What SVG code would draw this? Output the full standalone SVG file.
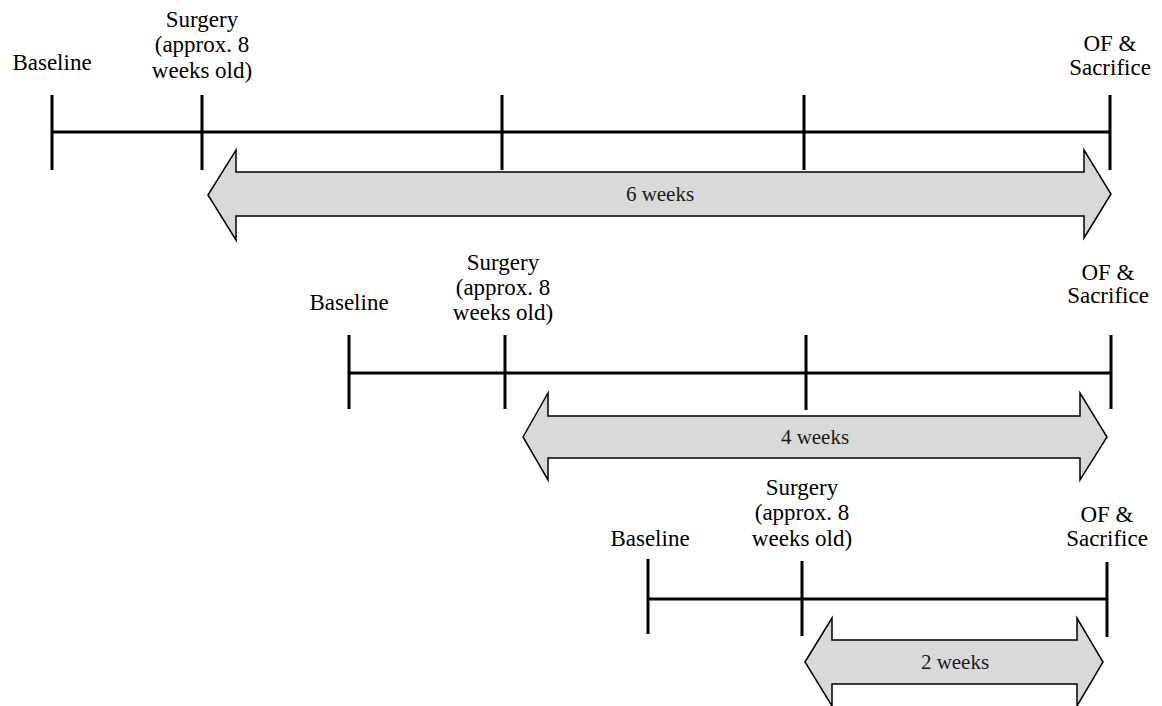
<svg xmlns="http://www.w3.org/2000/svg" width="1162" height="706" viewBox="0 0 1162 706">
<style>
.tl{stroke:#000;stroke-width:3;fill:none}
.ar{fill:#d9d9d9;stroke:#000;stroke-width:1.5;stroke-linejoin:miter}
.lb{font-size:23px;fill:#000;text-anchor:middle}
.al{font-size:21px;fill:#1a1a1a;text-anchor:middle}
</style>
<rect width="1162" height="706" fill="#fff"/>
<g id="connectors">
  <g id="timeline1">
    <path class="tl" d="M52 132H1110 M52 95V170 M202 95V170 M502 95V170 M804 95V170 M1110 95V170"/>
  </g>
  <g id="timeline2">
    <path class="tl" d="M349 373H1111 M349 335V409 M505 335V409 M806 335V410 M1111 335V409"/>
  </g>
  <g id="timeline3">
    <path class="tl" d="M648 599H1107 M648 559V634 M802 561V636 M1107 562V637"/>
  </g>
</g>
<g font-family="Liberation Serif, Tinos, Times New Roman, Noto Serif, DejaVu Serif, serif">
<g id="arrow1">
  <polygon class="ar" points="208,195 236,150 236,172 1084,172 1084,150 1111,194 1084,238 1084,216 236,216 236,240"/>
  <text class="al" x="660" y="201">6 weeks</text>
</g>
<g id="arrow2">
  <polygon class="ar" points="523,437 548,393 548,416 1080,416 1080,393 1107,437 1080,480 1080,458 548,458 548,480"/>
  <text class="al" x="815" y="444">4 weeks</text>
</g>
<g id="arrow3">
  <polygon class="ar" points="805,662 832,618 832,640 1077,640 1077,618 1103,662 1077,706 1077,684 832,684 832,706"/>
  <text class="al" x="955" y="669">2 weeks</text>
</g>
<g id="t1-baseline"><text class="lb" x="52" y="70">Baseline</text></g>
<g id="t1-surgery"><text class="lb" x="202" y="27">Surgery</text><text class="lb" x="202" y="52">(approx. 8</text><text class="lb" x="202" y="78">weeks old)</text></g>
<g id="t1-sacrifice"><text class="lb" x="1110" y="51">OF &amp;</text><text class="lb" x="1110" y="75">Sacrifice</text></g>
<g id="t2-baseline"><text class="lb" x="349" y="310">Baseline</text></g>
<g id="t2-surgery"><text class="lb" x="503" y="270">Surgery</text><text class="lb" x="503" y="295">(approx. 8</text><text class="lb" x="503" y="320">weeks old)</text></g>
<g id="t2-sacrifice"><text class="lb" x="1108" y="280">OF &amp;</text><text class="lb" x="1108" y="303">Sacrifice</text></g>
<g id="t3-baseline"><text class="lb" x="650" y="546">Baseline</text></g>
<g id="t3-surgery"><text class="lb" x="802" y="495">Surgery</text><text class="lb" x="802" y="520">(approx. 8</text><text class="lb" x="802" y="546">weeks old)</text></g>
<g id="t3-sacrifice"><text class="lb" x="1107" y="522">OF &amp;</text><text class="lb" x="1107" y="546">Sacrifice</text></g>
</g>
</svg>
